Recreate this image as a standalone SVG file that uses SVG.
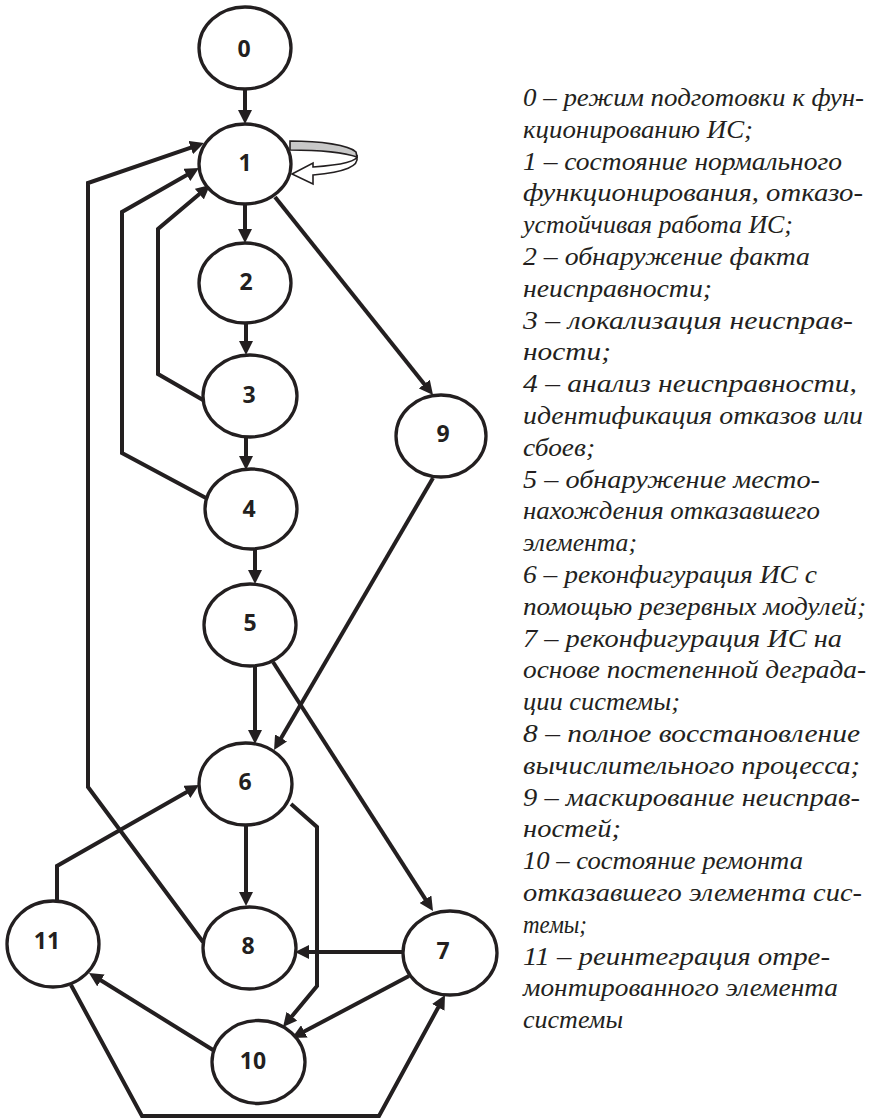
<svg xmlns="http://www.w3.org/2000/svg" width="875" height="1119" viewBox="0 0 875 1119">
  <style>
    .node ellipse { fill: #ffffff; stroke: #231f20; stroke-width: 3.3; }
    .node text { font-family: "Open Sans", "DejaVu Sans", sans-serif; font-weight: 700; font-size: 23px; fill: #231f20; text-anchor: middle; }
    .edge { fill: none; stroke: #231f20; stroke-width: 4; stroke-linejoin: miter; }
    .legend text { font-family: "Liberation Serif", "DejaVu Serif", serif; font-style: italic; font-size: 26px; fill: #231f20; }
  </style>
  <defs>
    <!-- filled arrowhead; the tip sits 10px beyond the path end -->
    <marker id="arrow" viewBox="0 0 14 14" refX="4" refY="7" markerWidth="14" markerHeight="14" markerUnits="userSpaceOnUse" orient="auto">
      <path d="M0,0 L14,7 L0,14 Z" fill="#231f20"/>
    </marker>
  </defs>

  <!-- connectors -->
  <g id="connectors">
    <path class="edge" d="M245,89 L245,114" marker-end="url(#arrow)"/>
    <path class="edge" d="M245,204 L245,233" marker-end="url(#arrow)"/>
    <path class="edge" d="M246,323 L246,345" marker-end="url(#arrow)"/>
    <path class="edge" d="M246,437 L246,460" marker-end="url(#arrow)"/>
    <path class="edge" d="M255,549 L255,574" marker-end="url(#arrow)"/>
    <path class="edge" d="M255,666 L255,734" marker-end="url(#arrow)"/>
    <path class="edge" d="M246,825 L246,896" marker-end="url(#arrow)"/>
    <!-- 1 -> 9 -->
    <path class="edge" d="M275,197 L426.8,387.2" marker-end="url(#arrow)"/>
    <!-- 9 -> 6 -->
    <path class="edge" d="M433,478 L279.1,741.4" marker-end="url(#arrow)"/>
    <!-- 5 -> 7 -->
    <path class="edge" d="M273,662 L427.6,902.6" marker-end="url(#arrow)"/>
    <!-- 6 -> 10 -->
    <path class="edge" d="M291,804 L317,827 L317,986 L289.4,1019.3" marker-end="url(#arrow)"/>
    <!-- 7 -> 8 -->
    <path class="edge" d="M403,952 L305,952" marker-end="url(#arrow)"/>
    <!-- 7 -> 10 -->
    <path class="edge" d="M409,976 L300.8,1033.3" marker-end="url(#arrow)"/>
    <!-- 10 -> 11 -->
    <path class="edge" d="M213,1050 L97.5,978.3" marker-end="url(#arrow)"/>
    <!-- 11 -> 7 along the bottom -->
    <path class="edge" d="M71,985 L142,1116 L379,1116 L440.2,1003.8" marker-end="url(#arrow)"/>
    <!-- 11 -> 6 -->
    <path class="edge" d="M57,901 L57,866 L190.3,790" marker-end="url(#arrow)"/>
    <!-- 8 -> 1 -->
    <path class="edge" d="M203,942 L88,787 L88,183 L194.5,146.3" marker-end="url(#arrow)"/>
    <!-- 4 -> 1 -->
    <path class="edge" d="M206,498 L122,453 L122,212 L190.3,173" marker-end="url(#arrow)"/>
    <!-- 3 -> 1 -->
    <path class="edge" d="M203,400 L158,374 L158,229 L202.4,191.5" marker-end="url(#arrow)"/>
    <!-- self-loop on 1: ribbon arrow -->
    <g id="loop1">
      <path d="M290,141 C320,141 349,145 356,152 L357,157 C346,153 320,150 290,150 Z" fill="#c8c8c8" stroke="#231f20" stroke-width="1.6"/>
      <path d="M357,155 C359,161 342,165 313,167 L313,163 L292,174 L313,184 L313,175 C346,172 359,166 357,157 Z" fill="#ffffff" stroke="#231f20" stroke-width="1.6" stroke-linejoin="miter"/>
    </g>
  </g>

  <!-- states -->
  <g id="node0" class="node"><ellipse cx="245" cy="48" rx="46" ry="41"/><text x="244" y="57">0</text></g>
  <g id="node1" class="node"><ellipse cx="245" cy="164" rx="46" ry="40"/><text x="245" y="171">1</text></g>
  <g id="node2" class="node"><ellipse cx="245" cy="283" rx="46" ry="40"/><text x="246" y="290">2</text></g>
  <g id="node3" class="node"><ellipse cx="250" cy="396" rx="47" ry="41"/><text x="249" y="403">3</text></g>
  <g id="node4" class="node"><ellipse cx="251" cy="509" rx="46" ry="40"/><text x="249" y="517">4</text></g>
  <g id="node5" class="node"><ellipse cx="250" cy="625" rx="46" ry="41"/><text x="250" y="631">5</text></g>
  <g id="node6" class="node"><ellipse cx="245.5" cy="784" rx="46.5" ry="41"/><text x="245" y="790">6</text></g>
  <g id="node7" class="node"><ellipse cx="450" cy="953" rx="47" ry="42"/><text x="443" y="959">7</text></g>
  <g id="node8" class="node"><ellipse cx="249.5" cy="948" rx="46.5" ry="41"/><text x="248" y="954">8</text></g>
  <g id="node9" class="node"><ellipse cx="441" cy="436" rx="45" ry="41"/><text x="443" y="442">9</text></g>
  <g id="node10" class="node"><ellipse cx="258.5" cy="1062" rx="46.5" ry="41.5"/><text x="253" y="1069">10</text></g>
  <g id="node11" class="node"><ellipse cx="53" cy="944" rx="46" ry="43"/><text x="47" y="949">11</text></g>

  <!-- legend of states -->
  <g id="legend" class="legend">
    <text x="523" y="106" textLength="341" lengthAdjust="spacingAndGlyphs">0 – режим подготовки к фун-</text>
    <text x="523" y="138" textLength="230" lengthAdjust="spacingAndGlyphs">кционированию ИС;</text>
    <text x="523" y="170" textLength="319" lengthAdjust="spacingAndGlyphs">1 – состояние нормального</text>
    <text x="523" y="201" textLength="340" lengthAdjust="spacingAndGlyphs">функционирования, отказо-</text>
    <text x="523" y="233" textLength="270" lengthAdjust="spacingAndGlyphs">устойчивая работа ИС;</text>
    <text x="523" y="265" textLength="287" lengthAdjust="spacingAndGlyphs">2 – обнаружение факта</text>
    <text x="523" y="297" textLength="189" lengthAdjust="spacingAndGlyphs">неисправности;</text>
    <text x="523" y="329" textLength="330" lengthAdjust="spacingAndGlyphs">3 – локализация неисправ-</text>
    <text x="523" y="360" textLength="88" lengthAdjust="spacingAndGlyphs">ности;</text>
    <text x="523" y="392" textLength="334" lengthAdjust="spacingAndGlyphs">4 – анализ неисправности,</text>
    <text x="523" y="424" textLength="340" lengthAdjust="spacingAndGlyphs">идентификация отказов или</text>
    <text x="523" y="456" textLength="72" lengthAdjust="spacingAndGlyphs">сбоев;</text>
    <text x="523" y="488" textLength="297" lengthAdjust="spacingAndGlyphs">5 – обнаружение место-</text>
    <text x="523" y="519" textLength="297" lengthAdjust="spacingAndGlyphs">нахождения отказавшего</text>
    <text x="523" y="551" textLength="114" lengthAdjust="spacingAndGlyphs">элемента;</text>
    <text x="523" y="583" textLength="294" lengthAdjust="spacingAndGlyphs">6 – реконфигурация ИС с</text>
    <text x="523" y="615" textLength="343" lengthAdjust="spacingAndGlyphs">помощью резервных модулей;</text>
    <text x="523" y="647" textLength="319" lengthAdjust="spacingAndGlyphs">7 – реконфигурация ИС на</text>
    <text x="523" y="678" textLength="343" lengthAdjust="spacingAndGlyphs">основе постепенной деграда-</text>
    <text x="523" y="710" textLength="157" lengthAdjust="spacingAndGlyphs">ции системы;</text>
    <text x="523" y="742" textLength="337" lengthAdjust="spacingAndGlyphs">8 – полное восстановление</text>
    <text x="523" y="774" textLength="337" lengthAdjust="spacingAndGlyphs">вычислительного процесса;</text>
    <text x="523" y="806" textLength="337" lengthAdjust="spacingAndGlyphs">9 – маскирование неисправ-</text>
    <text x="523" y="837" textLength="98" lengthAdjust="spacingAndGlyphs">ностей;</text>
    <text x="523" y="869" textLength="280" lengthAdjust="spacingAndGlyphs">10 – состояние ремонта</text>
    <text x="523" y="901" textLength="339" lengthAdjust="spacingAndGlyphs">отказавшего элемента сис-</text>
    <text x="523" y="933" textLength="64" lengthAdjust="spacingAndGlyphs">темы;</text>
    <text x="523" y="965" textLength="307" lengthAdjust="spacingAndGlyphs">11 – реинтеграция отре-</text>
    <text x="523" y="996" textLength="315" lengthAdjust="spacingAndGlyphs">монтированного элемента</text>
    <text x="523" y="1028" textLength="100" lengthAdjust="spacingAndGlyphs">системы</text>
  </g>
</svg>
